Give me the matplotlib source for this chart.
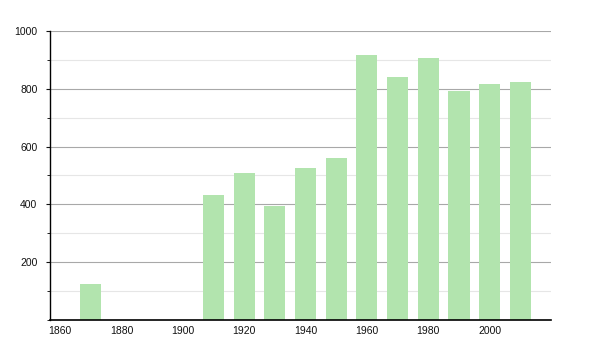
import matplotlib
matplotlib.use("Agg")
import matplotlib.pyplot as plt
from matplotlib.ticker import MultipleLocator

# --- data ---
years = [1870, 1910, 1920, 1930, 1940, 1950, 1960, 1970, 1980, 1990, 2000, 2010]
values = [126, 434, 507, 394, 525, 560, 915, 841, 907, 793, 817, 822]
xticks = [1860, 1880, 1900, 1920, 1940, 1960, 1980, 2000]
yticks = [200, 400, 600, 800, 1000]

plt.rcParams['font.family'] = ['Liberation Sans', 'DejaVu Sans']

fig = plt.figure(figsize=(6, 3.5), dpi=100)
ax = fig.add_axes([0.0833, 0.0857, 0.835, 0.826])

# --- grid ---
ax.yaxis.set_minor_locator(MultipleLocator(100))
ax.grid(True, axis="y", which="major", color="#a8a8a8", linewidth=0.8)
ax.grid(True, axis="y", which="minor", color="#e6e6e6", linewidth=0.8)
ax.set_axisbelow(True)

# --- bars ---
ax.bar(years, values, width=6.9, color="#b2e4ae", edgecolor="none")

ax.set_xlim(1856.7, 2020)
ax.set_ylim(0, 1000)
ax.set_xticks(xticks)
ax.set_yticks(yticks)

ax.tick_params(axis="x", length=0, pad=4, labelsize=7.5, colors="#111111")
ax.tick_params(axis="y", which="major", length=3, pad=6, labelsize=7.5, colors="#111111")
ax.tick_params(axis="y", which="minor", length=2)

for side in ["top", "right"]:
    ax.spines[side].set_visible(False)
ax.spines["left"].set_linewidth(1.0)
ax.spines["bottom"].set_linewidth(1.2)

fig.savefig("out.png", dpi=100)
